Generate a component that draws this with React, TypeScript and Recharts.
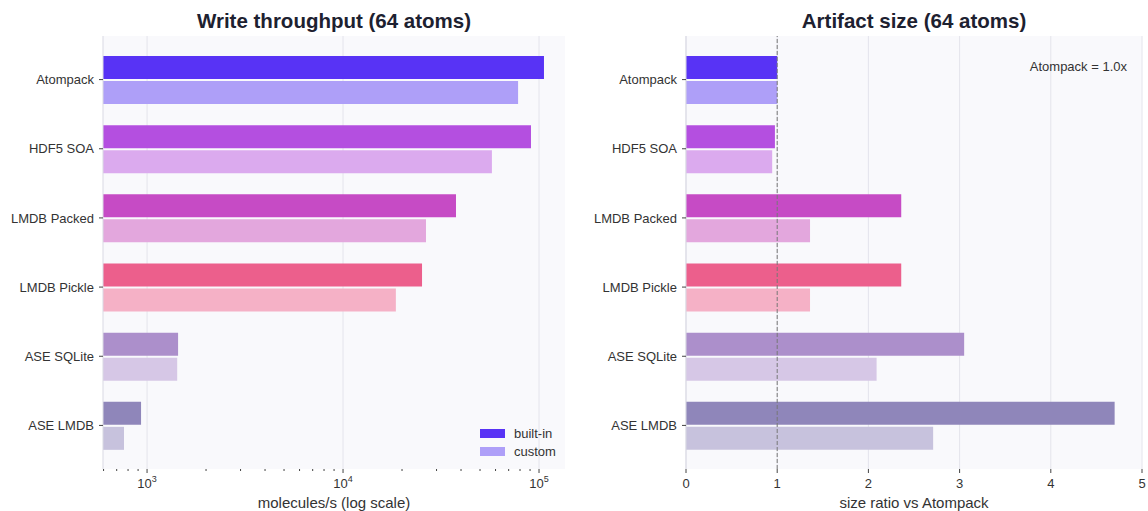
import React from "react";
import {
  Bar,
  BarChart,
  CartesianGrid,
  Cell,
  Legend,
  ReferenceLine,
  XAxis,
  YAxis,
} from "recharts";

// valeurs
const CATEGORIES = [
  "Atompack",
  "HDF5 SOA",
  "LMDB Packed",
  "LMDB Pickle",
  "ASE SQLite",
  "ASE LMDB",
];
const THROUGHPUT_BUILTIN = [106000, 91000, 37700, 25300, 1440, 932];
const THROUGHPUT_CUSTOM = [78200, 57500, 26500, 18600, 1425, 763];
const SIZE_BUILTIN = [1.0, 0.975, 2.36, 2.36, 3.05, 4.7];
const SIZE_CUSTOM = [1.0, 0.945, 1.36, 1.36, 2.09, 2.71];

const BUILTIN_COLORS = ["#5833f5", "#b44fe0", "#c64bc5", "#ec5f8c", "#ac8fcb", "#8f86ba"];
const CUSTOM_COLORS = ["#ae9ff8", "#dbaaee", "#e3a7dd", "#f5b1c6", "#d6c7e6", "#c7c2dd"];

const LOG_TICKS = [
  600, 700, 800, 900, 1000, 2000, 3000, 4000, 5000, 6000, 7000, 8000, 9000,
  10000, 20000, 30000, 40000, 50000, 60000, 70000, 80000, 90000, 100000,
];
const LOG_MAJOR = [1000, 10000, 100000];
const LOG_DOMAIN = [596, 135700];
const SIZE_TICKS = [0, 1, 2, 3, 4, 5];

const throughputRows = CATEGORIES.map((name, i) => ({
  name,
  builtin: THROUGHPUT_BUILTIN[i],
  custom: THROUGHPUT_CUSTOM[i],
}));
const sizeRows = CATEGORIES.map((name, i) => ({
  name,
  builtin: SIZE_BUILTIN[i],
  custom: SIZE_CUSTOM[i],
}));

const FONT = '"Liberation Sans", Arial, sans-serif';
const TEXT = "#333";
const GRID = "#e4e4ec";
const PLOT_BG = "#f9f9fc";
const SPINE = "#d9d9e3";

function LogTick({ x, y, payload }: any) {
  const v = payload.value;
  const exp = Math.round(Math.log10(v));
  const major = LOG_MAJOR.includes(v);
  return (
    <g>
      <line x1={x} x2={x} y1={y} y2={y + (major ? 4 : 2)} stroke="#444" />
      {major && (
        <text x={x} y={y + 19} textAnchor="middle" fontSize={13} fill={TEXT}>
          10
          <tspan dy={-6} fontSize={9}>
            {exp}
          </tspan>
        </text>
      )}
    </g>
  );
}

function LegendBox({ payload }: any) {
  return (
    <div style={{ fontSize: 13, color: TEXT, fontFamily: FONT }}>
      {(payload || []).map((p: any) => (
        <div
          key={p.value}
          style={{ display: "flex", alignItems: "center", height: 18 }}
        >
          <span
            style={{
              display: "inline-block",
              width: 25,
              height: 9,
              background: p.color,
              marginRight: 9,
            }}
          />
          {p.value}
        </div>
      ))}
    </div>
  );
}

const titleStyle: React.CSSProperties = {
  position: "absolute",
  top: 11,
  fontSize: 20.5,
  lineHeight: "20px",
  fontWeight: 700,
  color: "#1d2130",
  textAlign: "center",
};

export default function App() {
  return (
    <div
      style={{
        position: "absolute",
        left: 0,
        top: 0,
        width: 1148,
        height: 511,
        background: "#fff",
        fontFamily: FONT,
      }}
    >
      <div style={{ ...titleStyle, left: 103, width: 462 }}>
        Write throughput (64 atoms)
      </div>
      <div style={{ ...titleStyle, left: 686, width: 456 }}>
        Artifact size (64 atoms)
      </div>

      <div style={{ position: "absolute", left: 0, top: 0 }}>
        <BarChart
          width={574}
          height={511}
          data={throughputRows}
          layout="vertical"
          margin={{ top: 36, right: 9, bottom: 0, left: 0 }}
          barSize={23}
          barGap={2}
        >
          <CartesianGrid
            horizontal={false}
            verticalValues={LOG_MAJOR}
            stroke={GRID}
            fill={PLOT_BG}
          />
          <XAxis
            type="number"
            scale="log"
            domain={LOG_DOMAIN}
            allowDataOverflow
            ticks={LOG_TICKS}
            interval={0}
            tick={<LogTick />}
            tickLine={false}
            tickSize={0}
            tickMargin={0}
            axisLine={false}
            height={42}
            label={{
              value: "molecules/s (log scale)",
              position: "insideBottom",
              offset: 3,
              fontSize: 15,
              fill: TEXT,
            }}
          />
          <YAxis
            type="category"
            dataKey="name"
            width={103}
            padding={{ top: 9, bottom: 9 }}
            tickSize={4}
            tickMargin={5}
            tickLine={{ stroke: "#444" }}
            axisLine={{ stroke: SPINE }}
            tick={{ fontSize: 13, fill: TEXT }}
            interval={0}
          />
          <Bar dataKey="builtin" name="built-in" fill={BUILTIN_COLORS[0]} isAnimationActive={false}>
            {BUILTIN_COLORS.map((c, i) => (
              <Cell key={i} fill={c} />
            ))}
          </Bar>
          <Bar dataKey="custom" name="custom" fill={CUSTOM_COLORS[0]} isAnimationActive={false}>
            {CUSTOM_COLORS.map((c, i) => (
              <Cell key={i} fill={c} />
            ))}
          </Bar>
          <Legend
            layout="horizontal"
            align="center"
            verticalAlign="middle"
            wrapperStyle={{ left: 480, top: 424, width: "auto" }}
            content={<LegendBox />}
          />
        </BarChart>
      </div>

      <div style={{ position: "absolute", left: 574, top: 0 }}>
        <BarChart
          width={574}
          height={511}
          data={sizeRows}
          layout="vertical"
          margin={{ top: 36, right: 6, bottom: 0, left: 0 }}
          barSize={23}
          barGap={2}
        >
          <CartesianGrid horizontal={false} stroke={GRID} fill={PLOT_BG} />
          <XAxis
            type="number"
            domain={[0, 5]}
            ticks={SIZE_TICKS}
            interval={0}
            tickSize={4}
            tickMargin={6}
            tickLine={{ stroke: "#444" }}
            axisLine={false}
            tick={{ fontSize: 13, fill: TEXT }}
            height={42}
            label={{
              value: "size ratio vs Atompack",
              position: "insideBottom",
              offset: 3,
              fontSize: 15,
              fill: TEXT,
            }}
          />
          <YAxis
            type="category"
            dataKey="name"
            width={112}
            padding={{ top: 9, bottom: 9 }}
            tickSize={4}
            tickMargin={5}
            tickLine={{ stroke: "#444" }}
            axisLine={{ stroke: SPINE }}
            tick={{ fontSize: 13, fill: TEXT }}
            interval={0}
          />
          <Bar dataKey="builtin" name="built-in" fill={BUILTIN_COLORS[0]} isAnimationActive={false}>
            {BUILTIN_COLORS.map((c, i) => (
              <Cell key={i} fill={c} />
            ))}
          </Bar>
          <Bar dataKey="custom" name="custom" fill={CUSTOM_COLORS[0]} isAnimationActive={false}>
            {CUSTOM_COLORS.map((c, i) => (
              <Cell key={i} fill={c} />
            ))}
          </Bar>
          <ReferenceLine x={1} stroke="#777" strokeDasharray="4 2" />
        </BarChart>
      </div>

      <div
        style={{
          position: "absolute",
          right: 21,
          top: 60,
          fontSize: 13,
          lineHeight: "13px",
          color: TEXT,
        }}
      >
        Atompack = 1.0x
      </div>
    </div>
  );
}
